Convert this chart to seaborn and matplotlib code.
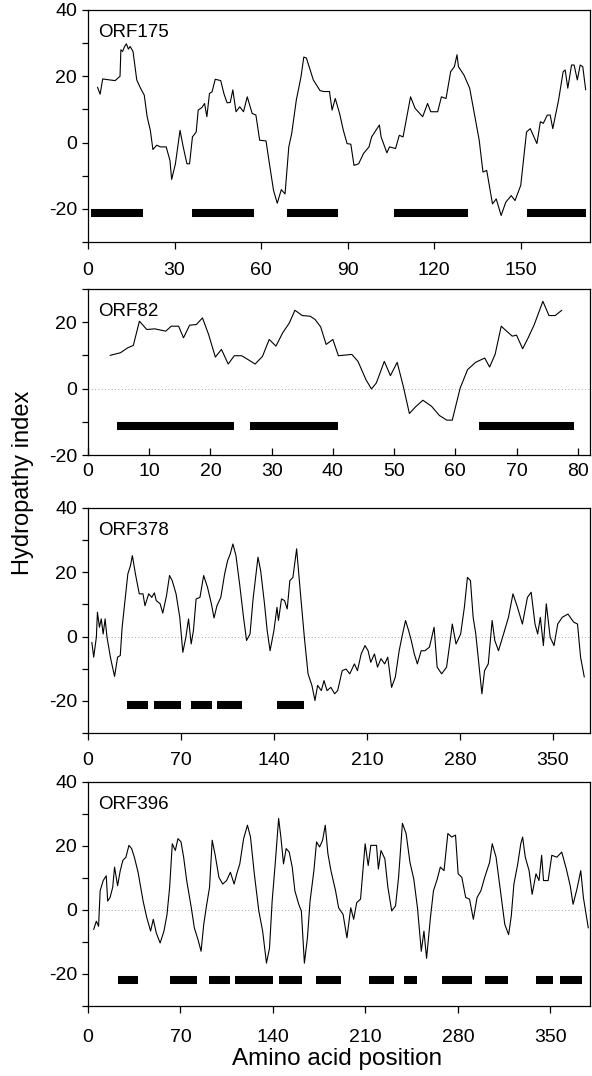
import numpy as np
import pandas as pd
import matplotlib
matplotlib.use("Agg")
import matplotlib.pyplot as plt
import seaborn as sns
from matplotlib.ticker import MultipleLocator, FuncFormatter

# ---------------- data ----------------
orf175_x = [3.3, 4.2, 5.1, 7.5, 9.4, 11.1, 11.4, 12, 12.7, 13.3, 14, 14.6, 15.6, 16.9, 18.2, 19.5,
            20.5, 21.6, 22.5, 23.8, 25.1, 27.1, 28.4, 29, 30.3, 31.9, 33, 34.3, 35.2, 36.2, 37.5,
            38.2, 39.5, 40.4, 41.2, 42.1, 43, 44.1, 46, 47.1, 48.2, 49.3, 50.2, 51.3, 52.6, 53.9,
            55.2, 56.9, 58.2, 59.5, 61.7, 62.8, 64.3, 65.6, 67, 68.3, 69.6, 70.6, 72.2, 73.8,
            74.8, 75.7, 78.1, 80.4, 81.7, 83.7, 84.6, 85.7, 87.2, 88.5, 89.8, 91.1, 92.2, 93.8,
            95.5, 97.4, 98.3, 101, 101.6, 103.6, 104.5, 106.6, 107.9, 109.2, 111.8, 113.4, 116,
            117.7, 118.8, 121.2, 122.5, 124.1, 125.7, 127, 127.9, 128.4, 130.3, 132.3, 134,
            135.6, 136.9, 138.2, 140.2, 141.5, 143.2, 144.8, 146.7, 148, 150, 152, 153.3, 155.6,
            156.8, 157.8, 159.2, 160.2, 161.1, 163.1, 164.7, 165.4, 166.3, 167.6, 168.5, 169.6,
            170.6, 171.5, 172.5]
orf175_y = [16.7, 14.6, 19.2, 18.9, 18.7, 20, 28, 27.5, 29, 29.8, 28.2, 29, 27.5, 18.9, 16.4, 14.3,
            7.8, 3.7, -2.1, -0.8, -1.3, -1.3, -5.4, -11.1, -6.4, 3.7, -1.3, -6.4, -6.4, 1.7, 3.2,
            9.8, 10.6, 11.8, 7.8, 14.8, 15.3, 19.1, 18.7, 14.8, 12, 12.1, 15.9, 9.3, 10.8, 9.3,
            13.8, 8.8, 8.3, 0.7, 0.5, -5.9, -14.4, -18.3, -14.2, -15.5, -1.3, 2.7, 12.8, 19.7,
            25.8, 25.5, 18.9, 15.7, 15.4, 15.4, 9.8, 13.3, 8.8, 3.7, -0.3, -0.5, -6.9, -6.4,
            -3.3, -1.3, 1.7, 5.3, 1.7, -3.1, -1.3, -1.8, 2.2, 1.7, 13.8, 10.3, 7.8,
            11.8, 9.3, 9.3, 13.8, 13.3, 21.4, 22.9, 26.5, 22.9, 20.4, 16.4, 8.3,
            0.7, -8.9, -8.4, -18.5, -17, -22, -18, -16, -17.5, -12.9, 3.2, 4.2, -0.3,
            6.3, 5.8, 8.3, 8.3, 4.2, 12.8, 21.4, 21.9, 16.4, 23.4, 23.4, 18.9,
            23.4, 22.9, 15.9]

orf82_x = [3.6, 5.3, 6.5, 7.4, 8.4, 9.6, 10.9, 12.7, 13.6, 14.8, 15.6, 16.6, 17.7, 18.7, 19.7,
           20.8, 21.8, 22.9, 23.9, 25.1, 26, 27.3, 28.5, 29.6, 30.7, 31.8, 32.9, 33.8, 35, 36.3,
           37.1, 38, 38.9, 40, 40.9, 43.1, 44.1, 45.4, 46.3, 47.1, 48.4, 49.4, 50.5, 51.5, 52.5,
           53.5, 54.7, 56.1, 57.4, 58.6, 59.5, 60.8, 62, 63.3, 64.8, 65.6, 66.5, 67.5, 68.2,
           69.3, 70, 71, 71.9, 72.9, 73.5, 74.3, 75.3, 76.3, 77.4]
orf82_y = [10, 10.8, 12.3, 13, 20.3, 17.8, 18, 17.3, 18.8, 18.8, 15.3, 19.1, 19.3, 21.3, 16.3,
           9.5, 11.8, 7.4, 9.9, 9.9, 8.9, 7.4, 9.7, 14.8, 12.8, 16.8, 19.8, 23.6, 22, 21.8,
           20.8, 18.6, 13.3, 14.8, 9.9, 10.3, 8.2, 2.7, -0.1, 1.7, 8.2, 3.9, 7.9, 0.7, -7.5,
           -5.5, -3.5, -5.3, -8.1, -9.5, -9.5, 0.2, 5.7, 7.9, 9.2, 6.5, 10.3, 18.8, 17.6,
           15.8, 16.1, 12, 15.3, 19.3, 22.3, 26.3, 22, 22, 23.6]

orf378_x = [2.9, 4.3, 6.3, 7.1, 8.6, 10, 11.4, 12.9, 14.3, 17.1, 20, 22.3, 24.3, 25.7, 28, 30, 32,
            33.4, 35.7, 38.6, 41.4, 42.9, 45.7, 48, 50, 51.4, 54.3, 56.3, 59.1, 61.4, 63.4, 66.3,
            69.1, 71.4, 73.7, 75.7, 77.7, 79.4, 81.4, 84.3, 87.1, 90, 92.9, 94.9, 97.1, 100,
            102.9, 105.1, 107.1, 109.1, 111.4, 114.3, 117.1, 119.4, 122, 124.3, 128, 130, 132.9,
            134.9, 137.1, 140, 142.3, 143.4, 145.7, 148, 150, 152, 154.3, 157.1, 160, 162.9,
            165.7, 168.6, 170.9, 172.9, 175.7, 177.7, 180, 182.9, 185.7, 188, 191.4, 194.3,
            197.1, 200.6, 202.9, 205.7, 208.6, 210.9, 212.9, 215.7, 218, 220.6, 223.4, 225.7,
            228.6, 231.4, 234.3, 236.6, 239.1, 241.4, 243.4, 245.7, 248, 250.9, 253.7, 257.1,
            260.6, 262.9, 266.3, 270, 272.9, 274.3, 277.1, 280.6, 283.4, 285.7, 288, 290, 292,
            294.3, 296.6, 298.6, 301.4, 304.3, 306.3, 309.1, 312.9, 316.6, 320, 323.4, 327.1,
            330.9, 333.7, 336.6, 338.6, 340.6, 342.9, 345.1, 348, 350.9, 353.7, 357.1, 361.4,
            365.7, 368.6, 370.9, 373.7]
orf378_y = [-1.8, -6.4, -0.2, 7.6, 2.9, 5.5, 0.8, 5.5, -0.2, -6.9, -12.4, -6.4, -5.9, 2.9, 11.7,
            19.5, 22.1, 25.2, 19.5, 13.3, 13.3, 9.6, 13.3, 12.2, 13.6, 11.2, 10.2, 7.3, 12.7, 19,
            17.4, 13.3, 6, -4.9, -0.2, 5.5, -2.3, 1.9, 11.7, 12.2, 19, 15.3, 10.2, 5.8, 9.6, 12.2,
            19.5, 23.6, 25.7, 28.8, 25.2, 15.9, 6, -1.2, 0.8, 11.7, 24.7, 20.5, 10.2,
            1.9, -4.4, 1.9, 9.1, 5, 11.7, 11.2, 8.6, 17.4, 18.4, 27.3, 13.3, -0.2,
            -11.6, -15.2, -19.9, -15.2, -16.8, -13.7, -16.8, -15.8, -17.8, -16.8, -10.6, -10.1,
            -11.6, -8.5, -10.6, -5.4, -2.8, -4.4, -8, -5.4, -9.5, -6.9, -8.5, -6.4,
            -15.8, -12.6, -4.4, 0.3, 5, 1.9, -1.2, -5.4, -8.5, -4.4, -4.4, -3.3,
            2.9, -9.5, -11.6, -9.5, -0.7, 3.9, -2.3, 0.8, 9.1, 18.4, 17.4, 6, 0.8,
            -8.5, -17.8, -10.6, -8.5, 5, -1.2, -4.4, 0.8, 6, 13.3, 9.1, 3.9,
            12.2, 13.8, 3.9, 0.8, 6, -2.8, 10.2, -0.2, -2.8, 3.9, 6, 7,
            4.5, 3.9, -6.4, -12.6]

orf396_x = [4.3, 6.3, 8, 9.2, 11.5, 13.8, 14.9, 16.7, 18.7, 20.1, 22.4, 24.4, 26.4, 28.7, 31, 33,
            35.1, 37.9, 39.7, 41.7, 44.5, 47.4, 49.4, 51.7, 54.6, 57.5, 59.8, 61.8, 63.8, 66.1,
            68.1, 70.4, 72.4, 74.7, 78.2, 80.5, 83.3, 85.6, 87.6, 89.7, 92, 94, 96.3, 99.1, 102,
            104.9, 107.8, 110.6, 112.6, 114.9, 117.8, 120.7, 123, 125.9, 129.3, 132.2, 135.1,
            137.4, 139.4, 141.7, 144.3, 146, 148, 150, 152.3, 154.6, 156.6, 159.5, 161.5, 163.8,
            166.1, 168.1, 171, 173, 175.3, 177.6, 179.6, 181.6, 183.9, 187.4, 189.7, 193.1, 196,
            198.9, 201.1, 203.4, 206.3, 208.3, 209.8, 212.1, 214.1, 218.4, 219.8, 221.8, 224.7,
            227, 229.9, 232.8, 235.1, 238, 240.8, 243.7, 246.6, 249.4, 252.3, 254.3, 256.3,
            259.2, 261.5, 264.4, 266.7, 269.5, 272.4, 275.3, 278.2, 280.2, 283, 285.9, 288.8,
            291.7, 294.5, 297.4, 300.3, 304, 306, 308.9, 310.9, 313.2, 315.5, 318.4, 320.4,
            322.4, 325.3, 327.6, 329, 331, 333.9, 336.2, 339.1, 341.4, 343.4, 344.8, 348.3,
            351.1, 354.9, 358.6, 362.1, 365, 367.2, 370.1, 373, 375, 378.7]
orf396_y = [-6.1, -3.5, -5.1, 6, 9.2, 10.7, 2.8, 3.9, 7.1, 13.4, 7.6, 12.3, 15.5, 16.5, 20.2, 19.2,
            16.5, 11.8, 7.6, 2.8, -2.4, -6.6, -2.9, -7.2, -10.3, -6.6, -1.4, 7.1, 20.7, 18.6,
            22.3, 21.3, 16.5, 9.2, 0.7, -5.6, -9.3, -12.9, -4.5, 1.3, 7.1, 21.8, 17.1, 10.2, 8.1,
            9.2, 11.8, 8.1, 11.3, 14.4, 22.3, 26.5, 22.8, 11.3, -0.3, -6.6, -16.6,
            -11.9, 2.8, 14.4, 28.6, 22.8, 14.4, 19.2, 18.1, 13.4, 6, 1.8, -0.3, -16.6,
            -8.7, 2.8, 12.3, 21.3, 19.7, 21.8, 26.5, 17.6, 12.3, 6, 0.7, -1.4, -8.7,
            0.7, -2.9, 2.3, 3.4, 13.4, 20.7, 13.9, 20.2, 20.2, 12.8, 18.6, 16,
            7.1, -0.3, 1.3, 10.2, 27.1, 23.9, 14.9, 9.7, 0.7, -12.9, -6.6, -15.1,
            -2.4, 6, 9.7, 13.4, 12.3, 23.9, 22.8, 23.4, 11.3, 10.2, 3.9, 3.4,
            -2.9, 3.9, 6, 10.2, 14.9, 20.7, 16.5, 10.2, 2.8, -4.5, -7.7, -1.9,
            8.1, 14.4, 20.7, 22.8, 16.5, 12.3, 4.9, 11.3, 9.2, 17.1, 9.2, 9.2,
            17.1, 16.5, 18.1, 12.8, 7.6, 1.8, 6.5, 12.3, 3.9, -5.6]

# black bars (segment starts / ends)
orf175_bar_start = [1, 36.2, 68.9, 106.2, 152.3]
orf175_bar_end = [19, 57.4, 86.7, 131.7, 172.5]
orf82_bar_start = [4.8, 26.5, 63.8]
orf82_bar_end = [23.8, 40.8, 79.4]
orf378_bar_start = [29.4, 49.4, 77.4, 97.1, 142.3]
orf378_bar_end = [44.9, 70.3, 93.1, 115.7, 162.3]
orf396_bar_start = [22.4, 61.8, 91.4, 111.2, 144.3, 172.4, 212.6, 239, 268, 300.3, 339, 357.2]
orf396_bar_end = [38.2, 82.8, 107.8, 140, 161.8, 191.4, 231.9, 249.4, 290.8, 317.8, 352, 373.6]

panel_names = ["ORF175", "ORF82", "ORF378", "ORF396"]
bar_levels = [-21.2, -11.3, -21.3, -22.0]
x_limits = [(0, 174), (0, 82), (0, 378), (0, 380)]
y_limits = [(-30, 40), (-20, 30), (-30, 40), (-30, 40)]
x_tick_step = [30, 10, 70, 70]
x_tick_max = [150, 80, 350, 350]

series = [(orf175_x, orf175_y), (orf82_x, orf82_y), (orf378_x, orf378_y), (orf396_x, orf396_y)]
bars = [(orf175_bar_start, orf175_bar_end), (orf82_bar_start, orf82_bar_end),
        (orf378_bar_start, orf378_bar_end), (orf396_bar_start, orf396_bar_end)]

# ---------------- styling ----------------
sns.set_style("white")
plt.rcParams['font.family'] = ['Liberation Sans', 'DejaVu Sans']
plt.rcParams['axes.unicode_minus'] = False

W, H = 592, 1076
fig = plt.figure(figsize=(W / 100, H / 100), dpi=100)

# axes boxes in pixels: (top, bottom)
boxes = [(10, 242), (289, 455), (508, 733), (782, 1006)]
left_px, right_px = 88, 590
label_pads = [9.5, 6, 8.5, 11.5]

for i, (top, bot) in enumerate(boxes):
    ax = fig.add_axes([left_px / W, 1 - bot / H, (right_px - left_px) / W, (bot - top) / H])
    xs, ys = series[i]
    df = pd.DataFrame({"pos": xs, "hyd": ys})
    if i > 0:
        ax.axhline(0, color='0.55', lw=0.6, ls=(0, (1, 3)), zorder=1)
    sns.lineplot(data=df, x="pos", y="hyd", ax=ax, color="black", lw=0.8,
                 estimator=None, sort=False, zorder=3)
    bs, be = bars[i]
    ax.hlines([bar_levels[i]] * len(bs), bs, be, colors="black", lw=5.8, zorder=4)
    ax.set_xlim(*x_limits[i])
    ax.set_ylim(*y_limits[i])
    ax.set_xticks(np.arange(0, x_tick_max[i] + 1, x_tick_step[i]))
    ax.yaxis.set_major_locator(MultipleLocator(10))
    ax.yaxis.set_major_formatter(FuncFormatter(lambda v, p: f"{int(round(v))}" if int(round(v)) % 20 == 0 else ""))
    ax.set_xlabel("")
    ax.set_ylabel("")
    for s in ax.spines.values():
        s.set_color("black")
        s.set_linewidth(0.9)
    xdir = 'in' if i == 1 else 'out'
    ax.tick_params(axis='x', direction=xdir, length=5, width=0.9, pad=label_pads[i],
                   labelsize=14, colors='black', bottom=True)
    ax.tick_params(axis='y', direction='out', length=4, width=0.9, pad=4,
                   labelsize=14, colors='black', left=True)
    ax.text(10 / (right_px - left_px), 1 - 27 / (bot - top), panel_names[i],
            transform=ax.transAxes, fontsize=13.5, ha='left', va='baseline', color='black')

fig.text(23 / W, 1 - 483 / H, "Hydropathy index", rotation=90, ha='center', va='center',
         fontsize=17, color='black')
fig.text(337 / W, 1 - 1059 / H, "Amino acid position", ha='center', va='center',
         fontsize=17.5, color='black')

fig.savefig("out.png", dpi=100)
